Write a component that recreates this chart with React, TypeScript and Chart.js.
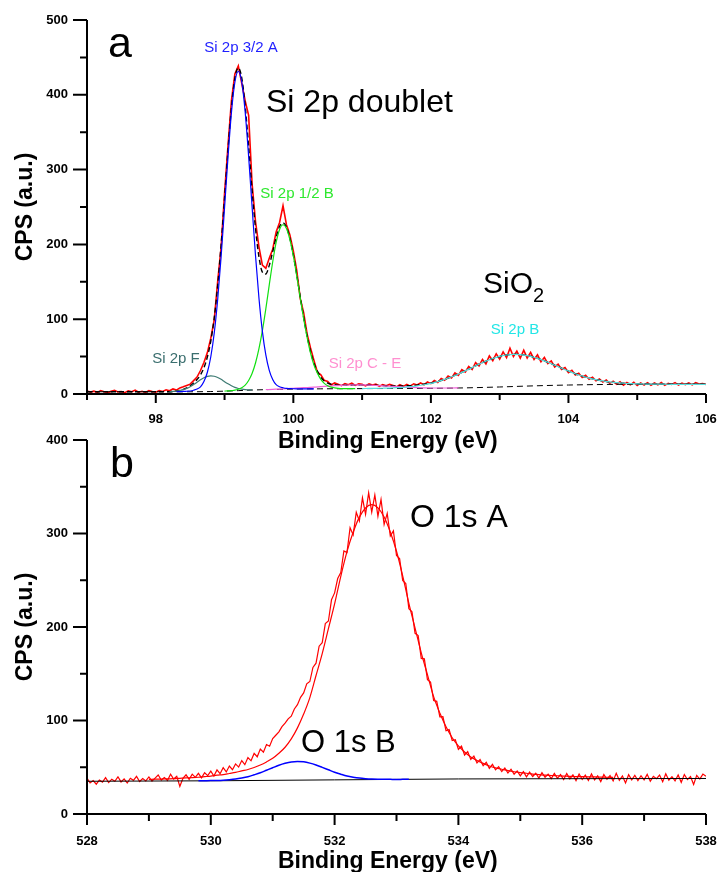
import React, { useEffect, useRef } from "react";
import { Chart, registerables } from "chart.js";

Chart.register(...registerables);

const FONT = "'Liberation Sans', Arial, Helvetica, sans-serif";

// ================= Panel a : Si 2p =================
const TOP_E0 = 97;
const TOP_DE = 0.05;
// measured counts, one row per eV (97.00 ... 97.95, 98.00 ... ), last value = 106.00
const topCounts = [
  4.1, 2.6, 3.8, 2.2, 4.6, 3.1, 1.9, 3.5, 4.9, 2.8, 3.3, 1.7, 4.2, 3.0, 5.1, 2.4, 3.6, 2.1, 4.4, 3.2,
  2.5, 4.7, 3.4, 5.6, 4.3, 6.8, 5.2, 8.1, 9.7, 11.5, 13.2, 17.9, 22.6, 31.4, 42.0, 55.3, 74.6, 99.1, 150.2, 196.5,
  268.3, 331.8, 392.4, 428.0, 438.6, 415.3, 391.7, 372.5, 281.4, 230.6, 196.8, 172.3, 168.1, 181.4, 193.5, 216.7, 229.3, 251.6, 226.4, 212.5,
  191.2, 164.8, 127.9, 108.7, 80.3, 61.5, 44.8, 29.1, 25.6, 18.2, 16.9, 12.1, 14.8, 13.0, 11.2, 13.9, 12.4, 14.6, 11.5, 13.7,
  12.9, 10.8, 13.5, 11.9, 13.2, 10.4, 12.6, 10.9, 12.8, 11.3, 9.6, 12.4, 10.2, 12.7, 10.5, 13.6, 12.0, 14.8, 12.3, 16.1,
  13.9, 18.2, 15.4, 20.6, 18.3, 24.1, 21.5, 28.2, 25.0, 32.6, 29.4, 36.8, 32.7, 42.1, 37.5, 46.3, 40.2, 50.9, 44.6, 53.8,
  46.7, 56.3, 48.5, 61.2, 50.1, 57.4, 47.9, 58.6, 48.2, 55.7, 46.3, 52.4, 43.1, 48.9, 40.6, 44.2, 36.1, 39.8, 32.9, 35.4,
  28.6, 31.7, 25.3, 27.8, 22.1, 24.9, 19.8, 22.4, 17.6, 20.1, 15.9, 18.7, 14.3, 17.2, 13.1, 16.4, 11.9, 15.3, 12.2, 15.6,
  11.4, 14.9, 12.1, 15.2, 11.8, 14.7, 12.3, 15.4, 11.6, 14.2, 12.7, 15.1, 11.9, 14.5, 12.6, 14.8, 12.2, 15.3, 13.4, 14.1,
  12.8,
];
// fitted envelope on the same grid
const topEnvelope = [
  3.0, 3.0, 3.0, 3.0, 3.0, 3.0, 3.0, 3.0, 3.0, 3.0, 3.0, 3.0, 3.0, 3.0, 3.0, 3.0, 3.0, 3.0, 3.0, 3.0,
  3.0, 3.0, 3.0, 3.0, 3.0, 3.4, 3.9, 4.7, 6.2, 8.2, 10.8, 14.7, 19.3, 25.5, 35.1, 49.4, 70.8, 101.8, 144.9, 199.4,
  262.1, 326.3, 383.1, 422.1, 436.1, 422.6, 384.8, 331.2, 272.8, 221.2, 183.4, 162.8, 160.5, 172.0, 190.2, 209.4, 224.0, 228.9, 223.1, 208.0,
  186.0, 159.1, 130.3, 102.4, 77.7, 57.0, 41.2, 30.6, 22.5, 17.5, 14.6, 13.0, 12.3, 11.9, 11.7, 11.8, 12.0, 12.1, 12.2, 12.1,
  12.2, 12.1, 12.0, 11.8, 11.6, 11.5, 11.3, 11.1, 11.0, 10.9, 10.8, 10.8, 10.8, 11.0, 11.2, 11.5, 11.9, 12.5, 13.1, 13.8,
  14.7, 15.7, 16.8, 18.1, 19.5, 21.2, 23.0, 24.8, 26.8, 28.8, 30.9, 33.1, 35.3, 37.6, 39.8, 41.9, 43.8, 45.7, 47.4, 48.9,
  50.2, 51.4, 52.1, 52.8, 53.0, 53.1, 52.7, 52.3, 51.4, 50.4, 49.1, 47.7, 46.0, 44.3, 42.4, 40.5, 38.5, 36.5, 34.5, 32.6,
  30.7, 28.9, 27.1, 25.5, 24.0, 22.6, 21.3, 20.2, 19.2, 18.3, 17.5, 16.8, 16.2, 15.6, 15.1, 14.8, 14.4, 14.1, 13.9, 13.8,
  13.6, 13.5, 13.4, 13.3, 13.2, 13.1, 13.1, 13.0, 13.0, 13.0, 13.0, 13.0, 13.0, 13.0, 13.0, 13.0, 13.0, 13.0, 13.0, 13.0,
  13.0,
];
// Si 2p 3/2 A (from 98.30, step 0.05)
const SI32A_E0 = 98.3;
const si2p32A = [
  3.0, 3.2, 3.4, 3.7, 4.0, 5.0, 6.6, 9.6, 16.6, 29.1, 49.8, 81.5, 126.4, 183.5, 249.3, 316.6, 376.2, 416.8, 431.5, 417.2,
  376.9, 317.7, 250.8, 185.2, 128.4, 83.8, 52.3, 31.7, 19.4, 12.5, 9.7, 8.3, 7.4, 7.2, 7.0, 6.9, 6.9, 6.8, 6.8, 6.8, 6.8,
];
// Si 2p 1/2 B (from 99.00, step 0.05)
const SI12B_E0 = 99.0;
const si2p12B = [
  3.9, 4.2, 4.6, 5.1, 6.3, 8.4, 11.9, 18.1, 27.3, 41.4, 60.6, 84.7, 113.8, 145.9, 176.5, 202.6, 220.0, 226.3, 221.4, 206.5,
  184.6, 157.6, 128.7, 100.7, 75.8, 54.8, 38.8, 27.9, 19.5, 14.2, 11.0, 9.2, 8.2, 7.5, 7.1, 7.1, 7.1, 7.1, 7.2,
];
// Si 2p F (from 98.20, step 0.05)
const SIF_E0 = 98.2;
const si2pF = [
  3.1, 3.4, 3.9, 4.7, 5.8, 7.5, 9.8, 12.7, 15.8, 19.1, 21.7, 23.6, 24.3, 23.7, 22.1, 19.6, 16.5, 13.6, 11.0, 8.8,
  7.3, 6.4, 5.8, 5.6, 5.5,
];
// Si 2p C - E (from 99.6, step 0.1)
const SICE_E0 = 99.6;
const si2pCE = [
  5.9, 6.3, 6.65, 7.1, 7.6, 8.1, 8.7, 9.2, 9.9, 10.55, 11.1, 11.65, 12.0, 12.15, 12.1, 11.84, 11.38, 10.92, 10.36, 9.8,
  9.34, 8.88, 8.52, 8.26, 8.05, 8.0, 8.0, 8.0, 8.1,
];
// Si 2p B (SiO2) (from 101.0, step 0.1)
const SIB_E0 = 101.0;
const si2pB = [
  7.3, 7.4, 7.5, 7.7, 7.96, 8.4, 8.94, 9.78, 10.92, 12.36,
  14.2, 16.6, 19.5, 23.0, 26.8, 30.9, 35.3, 39.8, 43.8, 47.4,
  50.2, 52.1, 53.0, 52.7, 51.4, 49.1, 46.0, 42.4, 38.5, 34.5,
  30.7, 27.1, 24.0, 21.3, 19.2, 17.5, 16.2, 15.1, 14.4, 13.9,
  13.6, 13.4, 13.2, 13.1, 13.1, 13.0, 13.0, 13.0, 13.0, 13.0,
  13.0,
];
// background
const topBgE = [97, 98.5, 98.8, 99.0, 99.2, 99.4, 99.6, 99.8, 100.0, 100.4, 101.0, 102.0, 102.5, 103.0, 103.5, 104.0, 104.5, 105.0, 106.0];
const topBgCps = [3.0, 3.0, 3.3, 3.8, 4.5, 5.3, 5.8, 6.2, 6.6, 6.9, 7.2, 7.6, 8.2, 9.4, 10.9, 12.0, 12.7, 13.0, 13.0];

const topXTicks = [97, 98, 99, 100, 101, 102, 103, 104, 105, 106];
const topXLabels = [98, 100, 102, 104, 106];
const topYTicks = [0, 50, 100, 150, 200, 250, 300, 350, 400, 450, 500];
const topYLabels = [0, 100, 200, 300, 400, 500];

const topNotes = [
  { text: "a", e: 97.305, cps: 450.5, size: 43, color: "#000000", align: "left" },
  { text: "Si 2p doublet", e: 99.603, cps: 377, size: 32, color: "#000000", align: "left" },
  { text: "SiO", sub: "2", e: 102.758, cps: 135, size: 30, subSize: 20, subDrop: 9, color: "#000000", align: "left" },
  { text: "Si 2p 3/2 A", e: 99.239, cps: 457, size: 15, color: "#1f1fff", align: "center" },
  { text: "Si 2p 1/2 B", e: 100.053, cps: 262, size: 15, color: "#2ee82e", align: "center" },
  { text: "Si 2p F", e: 98.294, cps: 41.4, size: 15, color: "#3a6e6e", align: "center" },
  { text: "Si 2p C - E", e: 101.042, cps: 34.8, size: 15, color: "#ff8fd0", align: "center" },
  { text: "Si 2p B", e: 103.223, cps: 80.2, size: 15, color: "#22e6e6", align: "center" },
];

// ================= Panel b : O 1s =================
const BOT_E0 = 528;
const BOT_DE = 0.05;
const botCounts = [
  38.5, 33.2, 35.8, 31.9, 36.4, 34.1, 38.9, 33.6, 37.2, 35.0, 39.8, 34.3, 37.6, 33.1, 38.2, 36.0, 40.3, 34.8, 37.9, 35.4,
  39.6, 35.2, 38.4, 41.7, 36.3, 39.1, 35.8, 42.5, 37.4, 40.2, 29.6, 38.1, 41.9, 37.0, 42.6, 39.2, 43.5, 38.7, 44.1, 41.0,
  45.8, 40.6, 47.2, 43.1, 49.5, 45.0, 51.3, 47.4, 53.6, 50.2, 57.1, 52.8, 60.3, 56.9, 64.8, 61.2, 69.5, 66.1, 74.3, 72.5,
  80.6, 84.2, 87.9, 93.5, 97.1, 101.8, 104.6, 112.3, 116.9, 124.8, 129.5, 139.2, 141.7, 156.8, 161.3, 179.5, 183.2, 203.6, 206.4, 229.1,
  236.5, 251.8, 258.3, 281.4, 279.6, 306.2, 298.5, 322.7, 313.4, 338.1, 320.6, 343.5, 322.8, 341.2, 318.5, 336.4, 309.7, 321.5, 297.3, 302.8,
  276.4, 273.2, 249.8, 246.5, 219.6, 216.3, 193.2, 190.8, 166.4, 165.9, 143.7, 141.2, 121.3, 120.5, 103.8, 104.2, 89.1, 90.3, 78.6, 79.4,
  69.2, 72.5, 63.1, 66.8, 58.3, 61.9, 54.6, 58.2, 51.7, 55.3, 48.9, 53.1, 47.2, 50.6, 45.4, 49.3, 43.8, 47.9, 42.6, 46.1,
  40.8, 45.3, 39.7, 44.8, 40.1, 43.6, 38.5, 44.2, 39.3, 42.7, 37.9, 43.5, 38.2, 42.1, 36.8, 43.4, 37.6, 41.9, 35.7, 42.8,
  37.1, 41.6, 35.9, 42.9, 36.4, 40.8, 34.7, 42.3, 37.2, 41.1, 35.3, 43.6, 36.0, 40.7, 33.2, 42.0, 36.6, 41.4, 35.8, 40.9,
  36.5, 42.4, 35.1, 40.3, 37.8, 41.7, 34.6, 43.0, 36.2, 39.9, 35.4, 41.8, 33.9, 42.2, 36.9, 40.1, 31.5, 41.3, 37.4, 42.7,
  40.4,
];
// O 1s A fit (from 529.0, step 0.1)
const O1SA_E0 = 529.0;
const FIT_DE = 0.1;
const o1sA = [
  37.1, 37.2, 37.4, 37.6, 37.8, 38.2, 38.6, 38.9, 39.3, 39.9,
  40.5, 41.5, 42.1, 43.3, 44.5, 46.1, 47.6, 49.7, 52.4, 55.7,
  59.5, 64.9, 71.4, 80.3, 92.1, 106.9, 124.5, 148.1, 171.6, 198.2,
  224.7, 254.2, 280.6, 301.3, 317.5, 327.3, 330.8, 327.4, 317.7, 301.6,
  281.0, 254.7, 225.3, 198.9, 172.4, 149.0, 125.5, 108.0, 93.3, 81.6,
  72.8, 66.3, 61.0, 57.3, 54.1, 51.4, 49.4, 47.9, 46.4, 45.2,
  44.2, 43.6, 42.7, 42.1, 41.5, 41.2, 40.9, 40.6, 40.2, 40.0,
  39.9, 39.8, 39.6, 39.5, 39.3, 39.2,
];
// O 1s B fit (from 529.8, step 0.1)
const O1SB_E0 = 529.8;
const o1sB = [
  35.5, 35.6, 35.7, 35.9, 36.2, 36.7, 37.4, 38.5, 39.9, 41.9,
  44.1, 46.8, 49.5, 52.1, 54.2, 55.7, 56.2, 55.8, 54.4, 52.4,
  49.9, 47.3, 44.7, 42.6, 40.7, 39.4, 38.4, 37.8, 37.4, 37.2,
  37.1, 37.05, 37.0, 37.05, 37.1,
];
const botBgE = [528, 530, 532, 533, 534, 536, 538];
const botBgCps = [35.0, 35.5, 36.5, 37.0, 37.5, 37.8, 38.0];

const botXTicks = [528, 529, 530, 531, 532, 533, 534, 535, 536, 537, 538];
const botXLabels = [528, 530, 532, 534, 536, 538];
const botYTicks = [0, 50, 100, 150, 200, 250, 300, 350, 400];
const botYLabels = [0, 100, 200, 300, 400];

const botNotes = [
  { text: "b", e: 528.372, cps: 360.4, size: 43, color: "#000000", align: "left" },
  { text: "O 1s A", e: 533.218, cps: 307, size: 32, color: "#000000", align: "left" },
  { text: "O 1s B", e: 531.457, cps: 66.3, size: 31, color: "#000000", align: "left" },
];

// ================= helpers =================
function ramp(e0: number, de: number, ys: number[]) {
  return ys.map((y, i) => ({ x: Math.round((e0 + i * de) * 1000) / 1000, y }));
}
function pairs(xs: number[], ys: number[]) {
  return xs.map((x, i) => ({ x, y: ys[i] }));
}

function line(data: any[], color: string, width: number, order: number, extra: any = {}) {
  return {
    data,
    borderColor: color,
    borderWidth: width,
    pointRadius: 0,
    fill: false,
    order,
    ...extra,
  };
}

function decorPlugin(spec: any) {
  return {
    id: "decor_" + spec.id,
    afterDraw(chart: any) {
      const { ctx, chartArea: a } = chart;
      const xs = chart.scales.x;
      const ys = chart.scales.y;
      ctx.save();
      ctx.strokeStyle = "#000";
      ctx.lineWidth = 2;
      ctx.beginPath();
      ctx.moveTo(a.left, a.top);
      ctx.lineTo(a.left, a.bottom + 1);
      ctx.moveTo(a.left - 1, a.bottom);
      ctx.lineTo(a.right, a.bottom);
      for (const v of spec.xTicks) {
        const px = xs.getPixelForValue(v);
        const len = spec.xLabels.includes(v) ? spec.xMajor : spec.xMinor;
        ctx.moveTo(px, a.bottom);
        ctx.lineTo(px, a.bottom + len);
      }
      for (const v of spec.yTicks) {
        const py = ys.getPixelForValue(v);
        const len = spec.yLabels.includes(v) ? 14 : 7;
        ctx.moveTo(a.left, py);
        ctx.lineTo(a.left - len, py);
      }
      ctx.stroke();

      ctx.textBaseline = "alphabetic";
      for (const n of spec.notes) {
        const px = xs.getPixelForValue(n.e);
        const py = ys.getPixelForValue(n.cps);
        ctx.font = `${n.size}px ${FONT}`;
        ctx.fillStyle = n.color;
        ctx.textAlign = n.align;
        ctx.fillText(n.text, px, py);
        if (n.sub) {
          const w = ctx.measureText(n.text).width;
          ctx.font = `${n.subSize}px ${FONT}`;
          ctx.textAlign = "left";
          ctx.fillText(n.sub, px + w, py + n.subDrop);
        }
      }

      ctx.fillStyle = "#000";
      ctx.font = `bold 23px ${FONT}`;
      ctx.textAlign = "center";
      ctx.textBaseline = "alphabetic";
      ctx.fillText(spec.xTitle, a.left + a.width * 0.486, a.bottom + 54);
      ctx.translate(a.left - 61, (a.top + a.bottom) / 2);
      ctx.rotate(-Math.PI / 2);
      ctx.textBaseline = "middle";
      ctx.fillText(spec.yTitle, 0, 0);
      ctx.restore();
    },
  };
}

function baseOptions(p: any) {
  const tickFont = { family: FONT, size: 13, weight: "bold" as const };
  return {
    responsive: false,
    animation: false as const,
    events: [] as any[],
    layout: { padding: { left: 0, right: 11, top: p.padTop, bottom: 0 } },
    plugins: { legend: { display: false }, tooltip: { enabled: false } },
    scales: {
      x: {
        type: "linear" as const,
        min: p.xMin,
        max: p.xMax,
        border: { display: false },
        grid: { display: false, drawTicks: false, tickLength: 0 },
        ticks: {
          stepSize: 1,
          autoSkip: false,
          maxRotation: 0,
          minRotation: 0,
          padding: p.xPad,
          color: "#000",
          font: tickFont,
          callback: (v: number) => (p.xLabels.includes(v) ? String(v) : ""),
        },
        afterFit: (s: any) => {
          s.height = p.xHeight;
          s.paddingLeft = 0;
          s.paddingRight = 0;
        },
      },
      y: {
        type: "linear" as const,
        min: p.yMin,
        max: p.yMax,
        border: { display: false },
        grid: { display: false, drawTicks: false, tickLength: 0 },
        ticks: {
          stepSize: 50,
          autoSkip: false,
          padding: 19,
          color: "#000",
          font: tickFont,
          callback: (v: number) => (p.yLabels.includes(v) ? String(v) : ""),
        },
        afterFit: (s: any) => {
          s.width = 87;
          s.paddingTop = 0;
          s.paddingBottom = 0;
        },
      },
    },
  };
}

function topConfig(): any {
  const smooth = { cubicInterpolationMode: "monotone" };
  return {
    type: "line",
    data: {
      datasets: [
        line(ramp(TOP_E0, TOP_DE, topCounts), "#ff0000", 1.6, 10),
        line(ramp(TOP_E0, TOP_DE, topEnvelope), "#000000", 1.4, 9, { borderDash: [5, 3], ...smooth }),
        line(pairs(topBgE, topBgCps), "#000000", 1, 8, { borderDash: [6, 4], ...smooth }),
        line(ramp(SICE_E0, 0.1, si2pCE), "#f060d8", 1.2, 6, smooth),
        line(ramp(SIF_E0, 0.05, si2pF), "#3d7a72", 1.2, 5, smooth),
        line(ramp(SIB_E0, 0.1, si2pB), "#55dede", 1.2, 4, smooth),
        line(ramp(SI12B_E0, 0.05, si2p12B), "#10e010", 1.2, 3, smooth),
        line(ramp(SI32A_E0, 0.05, si2p32A), "#0000ff", 1.2, 2, smooth),
      ],
    },
    options: baseOptions({
      padTop: 20, xMin: 97, xMax: 106, yMin: 0, yMax: 500,
      xLabels: topXLabels, yLabels: topYLabels, xHeight: 61, xPad: 18,
    }),
    plugins: [
      decorPlugin({
        id: "a", xTicks: topXTicks, xLabels: topXLabels, yTicks: topYTicks, yLabels: topYLabels,
        xMajor: 9, xMinor: 6, notes: topNotes, xTitle: "Binding Energy (eV)", yTitle: "CPS (a.u.)",
      }),
    ],
  };
}

function botConfig(): any {
  const smooth = { cubicInterpolationMode: "monotone" };
  return {
    type: "line",
    data: {
      datasets: [
        line(ramp(BOT_E0, BOT_DE, botCounts), "#ff0000", 1.2, 10),
        line(pairs(botBgE, botBgCps), "#000000", 1, 8, smooth),
        line(ramp(O1SB_E0, FIT_DE, o1sB), "#0000ff", 1.5, 3, smooth),
        line(ramp(O1SA_E0, FIT_DE, o1sA), "#ff0000", 1.2, 2, smooth),
      ],
    },
    options: baseOptions({
      padTop: 15, xMin: 528, xMax: 538, yMin: 0, yMax: 400,
      xLabels: botXLabels, yLabels: botYLabels, xHeight: 58, xPad: 20,
    }),
    plugins: [
      decorPlugin({
        id: "b", xTicks: botXTicks, xLabels: botXLabels, yTicks: botYTicks, yLabels: botYLabels,
        xMajor: 11, xMinor: 7, notes: botNotes, xTitle: "Binding Energy (eV)", yTitle: "CPS (a.u.)",
      }),
    ],
  };
}

export default function App() {
  const topRef = useRef<HTMLCanvasElement>(null);
  const botRef = useRef<HTMLCanvasElement>(null);

  useEffect(() => {
    const c1 = new Chart(topRef.current as HTMLCanvasElement, topConfig());
    const c2 = new Chart(botRef.current as HTMLCanvasElement, botConfig());
    return () => {
      c1.destroy();
      c2.destroy();
    };
  }, []);

  return (
    <div
      style={{
        position: "fixed",
        left: 0,
        top: 0,
        width: 717,
        height: 872,
        background: "#ffffff",
        overflow: "hidden",
      }}
    >
      <canvas
        ref={topRef}
        width={717}
        height={455}
        style={{ position: "absolute", left: 0, top: 0, width: 717, height: 455, display: "block" }}
      />
      <canvas
        ref={botRef}
        width={717}
        height={447}
        style={{ position: "absolute", left: 0, top: 425, width: 717, height: 447, display: "block" }}
      />
    </div>
  );
}
